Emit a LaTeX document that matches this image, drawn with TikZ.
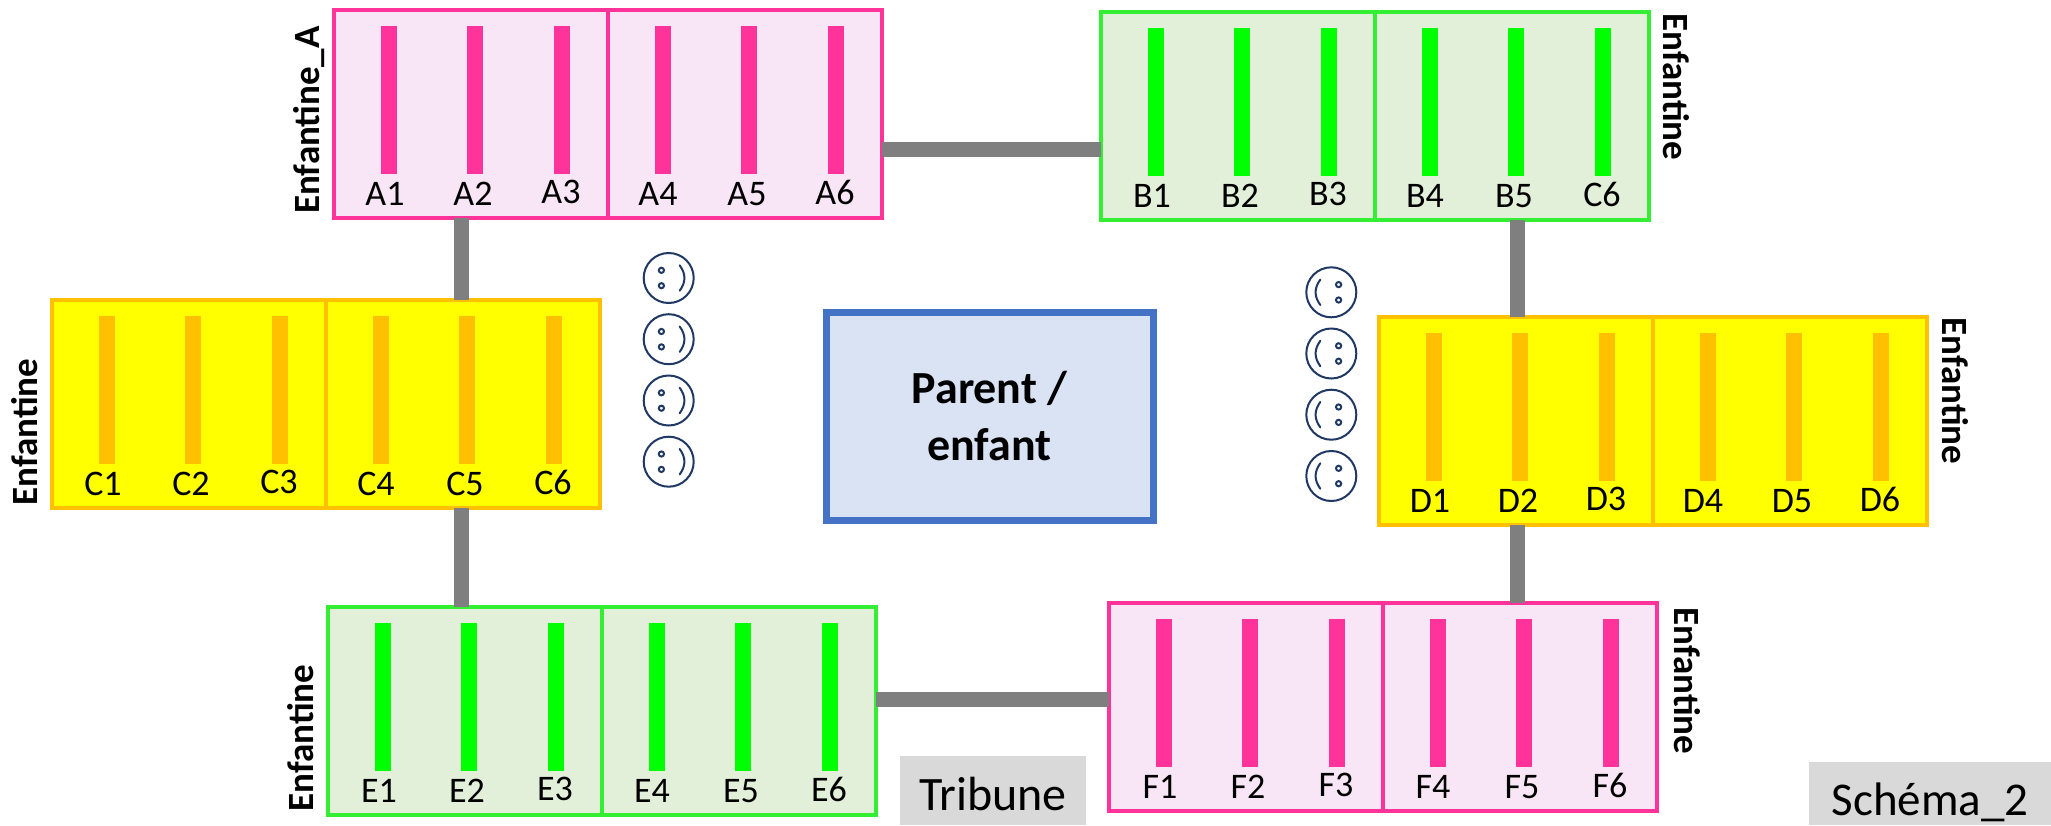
\documentclass[tikz,border=0pt]{standalone}
\usepackage{fontspec}
\setmainfont{Carlito}
\usetikzlibrary{calc}
\definecolor{pinkS}{HTML}{FF3399}
\definecolor{pinkF}{HTML}{F8E6F6}
\definecolor{greenS}{HTML}{00FF00}
\definecolor{greenB}{HTML}{33EE33}
\definecolor{greenF}{HTML}{E2F0D9}
\definecolor{yelS}{HTML}{FFC000}
\definecolor{yelF}{HTML}{FFFF00}
\definecolor{blueS}{HTML}{4472C4}
\definecolor{blueF}{HTML}{DAE3F3}
\definecolor{conn}{HTML}{7F7F7F}
\definecolor{navy}{HTML}{1F3864}
\definecolor{tag}{HTML}{D9D9D9}
\tikzset{
  x=1pt,y=-1pt,
  half/.style={draw,line width=4pt,minimum width=273.5pt,minimum height=208pt,inner sep=0,outer sep=0,anchor=north west},
  bar/.style={inner sep=0,outer sep=0,minimum width=16pt,minimum height=148pt,anchor=north},
  seat/.style={font=\fontsize{36}{38}\selectfont,inner sep=0,text=black},
  side/.style={font=\fontsize{37}{40}\selectfont\bfseries,inner sep=0,text=black},
  link/.style={draw=conn,line width=15pt},
  tagbox/.style={fill=tag,inner sep=0,outer sep=0,anchor=north west},
  smile/.pic={
    \draw[navy,line width=2pt] (0,0) circle[radius=25];
    \draw[navy,line width=2pt] (-7.3,-7.7) circle[radius=2.6] (-7.3,7.7) circle[radius=2.6];
    \draw[navy,line width=2pt,line cap=round] (11,-12.7) .. controls (17.3,-4) and (17.3,4) .. (11,12.7);
  }
}
% name, x, y, stroke, fill, barcolor, text of the sixth seat
\newcommand{\seatgroup}[7]{
  \node[half,draw=#4,fill=#5] (#1L) at (#2,#3) {};
  \node[half,draw=#4,fill=#5] (#1R) at (#2+274,#3) {};
  \foreach \dx in {55,141,227.5,329,415,501.5}
    \node[bar,fill=#6] at (#2+\dx,#3+16) {};
  \foreach \dx/\dy/\t in {51/184/1,139/184/2,227/182/3,324/184/4,413/184/5,501/182/6}
    \node[seat] (#1\t) at (#2+\dx,#3+\dy) {\ifnum\t=6 #7\else\fi\ifnum\t=6 \else#1\t\fi};
}
\begin{document}
\begin{tikzpicture}
\useasboundingbox (0,0) rectangle (2051,825);
\fill[white] (0,0) rectangle (2051,825);

\seatgroup{A}{334}{10}{pinkS}{pinkF}{pinkS}{A6}
\seatgroup{B}{1101}{12}{greenB}{greenF}{greenS}{C6}
\seatgroup{C}{52}{300}{yelS}{yelF}{yelS}{C6}
\seatgroup{D}{1379}{317}{yelS}{yelF}{yelS}{D6}
\seatgroup{E}{328}{607}{greenB}{greenF}{greenS}{E6}
\seatgroup{F}{1109}{603}{pinkS}{pinkF}{pinkS}{F6}

\coordinate (colL) at (461,0);
\coordinate (colR) at (1517,0);
\coordinate (rowT) at (0,149);
\coordinate (rowB) at (0,699);
\draw[link] (AL.south -| colL) -- (CR.north -| colL);
\draw[link] (CR.south -| colL) -- (EL.north -| colL);
\draw[link] (BR.south -| colR) -- (DL.north -| colR);
\draw[link] (DL.south -| colR) -- (FR.north -| colR);
\draw[link] (AR.east |- rowT) -- (BL.west |- rowT);
\draw[link] (ER.east |- rowB) -- (FL.west |- rowB);

\node[draw=blueS,fill=blueF,line width=7pt,minimum width=327pt,minimum height=208pt,inner sep=0,
      align=center,font=\fontsize{46}{57}\selectfont\bfseries] (P) at (989.5,416) {Parent /\\enfant};

\node[side,rotate=90] (sA) at (309,120) {Enfantine\_A};
\node[side,rotate=-90] (sB) at (1676,87) {Enfantine};
\node[side,rotate=90] (sC) at (25,432) {Enfantine};
\node[side,rotate=-90] (sD) at (1955,391) {Enfantine};
\node[side,rotate=90] (sE) at (301,738) {Enfantine};
\node[side,rotate=-90] (sF) at (1687,681) {Enfantine};

\foreach \y in {278,339.2,400.5,461.7}
  \pic at (668.7,\y) {smile};
\foreach \y in {292.3,353.5,414.7,476}
  \pic[xscale=-1] at (1331.3,\y) {smile};

\node[tagbox,minimum width=186pt,minimum height=69pt,font=\fontsize{48}{50}\selectfont] (T) at (900,756) {\raisebox{-19.5pt}[0pt][0pt]{Tribune}};
\node[tagbox,minimum width=242pt,minimum height=63pt,font=\fontsize{47}{50}\selectfont] (S) at (1809,762) {\raisebox{-21.5pt}[0pt][0pt]{Schéma\_2}};
\end{tikzpicture}
\end{document}
